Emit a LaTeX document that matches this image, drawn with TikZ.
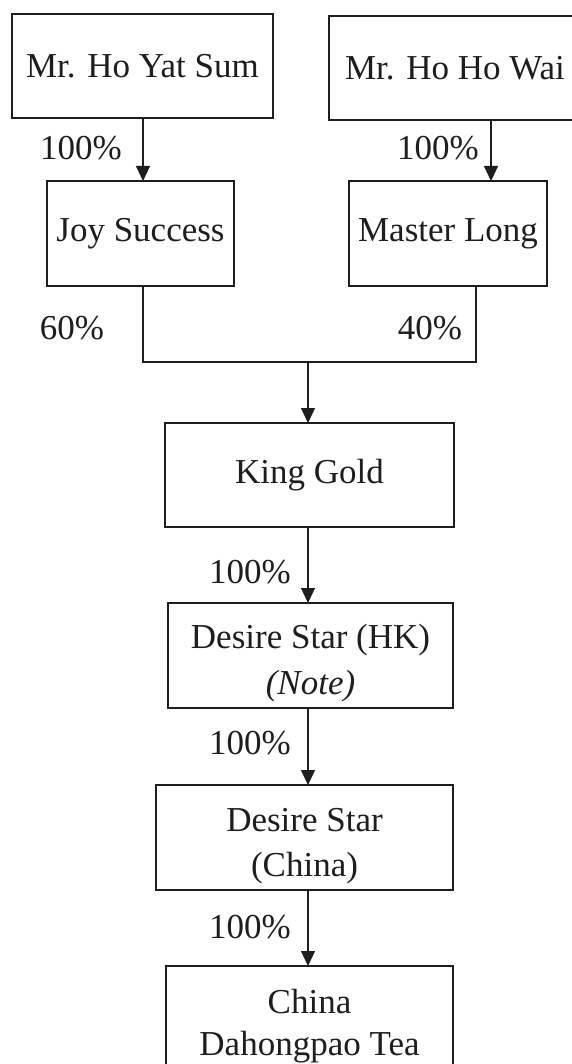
\documentclass[tikz,border=0pt]{standalone}
\usepackage{fontspec}
\setmainfont{Liberation Serif}
\usetikzlibrary{arrows.meta}
\definecolor{ink}{HTML}{1E1E1E}
\newcommand{\topstrut}{\rule{0pt}{40pt}}
\begin{document}
\begin{tikzpicture}[x=1pt,y=-1pt,
  box/.style={draw=ink, line width=1.4pt, inner sep=0pt, outer sep=0pt, text=ink,
    font=\fontsize{35}{45}\selectfont, align=center},
  pct/.style={text=ink, font=\fontsize{35}{40}\selectfont, inner sep=0pt},
  conn/.style={draw=ink, line width=1.1pt},
  arr/.style={conn, -{Triangle[length=15pt,width=14pt]}}]
\useasboundingbox (0,0) rectangle (572,1064);
\clip (0,0) rectangle (572,1064);
\fill[white] (0,0) rectangle (572,1064);
% boxes
\node[box, minimum width=261pt, minimum height=104pt] (b1) at (142.5,66) {Mr. Ho Yat Sum};
\node[box, minimum width=252pt, minimum height=104pt] (b2) at (455,68) {Mr. Ho Ho Wai};
\node[box, minimum width=187pt, minimum height=105pt] (js) at (140.5,233.5) {Joy Success};
\node[box, minimum width=198pt, minimum height=105pt] (ml) at (448,233.5) {Master Long};
\node[box, minimum width=289pt, minimum height=104pt] (kg) at (309.5,475) {King Gold};
\node[box, minimum width=285pt, minimum height=105pt] (hk) at (310.5,655.5) {\topstrut Desire Star (HK)\\[1pt]\textit{(Note)}};
\node[box, minimum width=297pt, minimum height=105pt] (dc) at (304.5,837.5) {\topstrut Desire Star\\(China)};
\node[box, minimum width=287pt, minimum height=105pt] (bt) at (309.5,1018.5) {\topstrut China\\[-3pt]Dahongpao Tea};
% connectors
\coordinate (j) at (308,362);
\draw[arr] ([xshift=0.5pt]b1.south) -- ([xshift=0.5pt]b1.south |- js.north);
\draw[arr] ([xshift=36pt]b2.south) -- ([xshift=36pt]b2.south |- ml.north);
\draw[conn] ([xshift=2.5pt]js.south) |- (j) -| ([xshift=28pt]ml.south);
\draw[arr] (j) -- (j |- kg.north);
\draw[arr] (kg.south -| j) -- (j |- hk.north);
\draw[arr] (hk.south -| j) -- (j |- dc.north);
\draw[arr] (dc.south -| j) -- (j |- bt.north);
% labels
\node[pct] (l1) at (81,148) {100\%};
\node[pct] (l2) at (438,148) {100\%};
\node[pct] (l3) at (72,328) {60\%};
\node[pct] (l4) at (430,328) {40\%};
\node[pct] (l5) at (250,572) {100\%};
\node[pct] (l6) at (250,743) {100\%};
\node[pct] (l7) at (250,927) {100\%};
\end{tikzpicture}
\end{document}
